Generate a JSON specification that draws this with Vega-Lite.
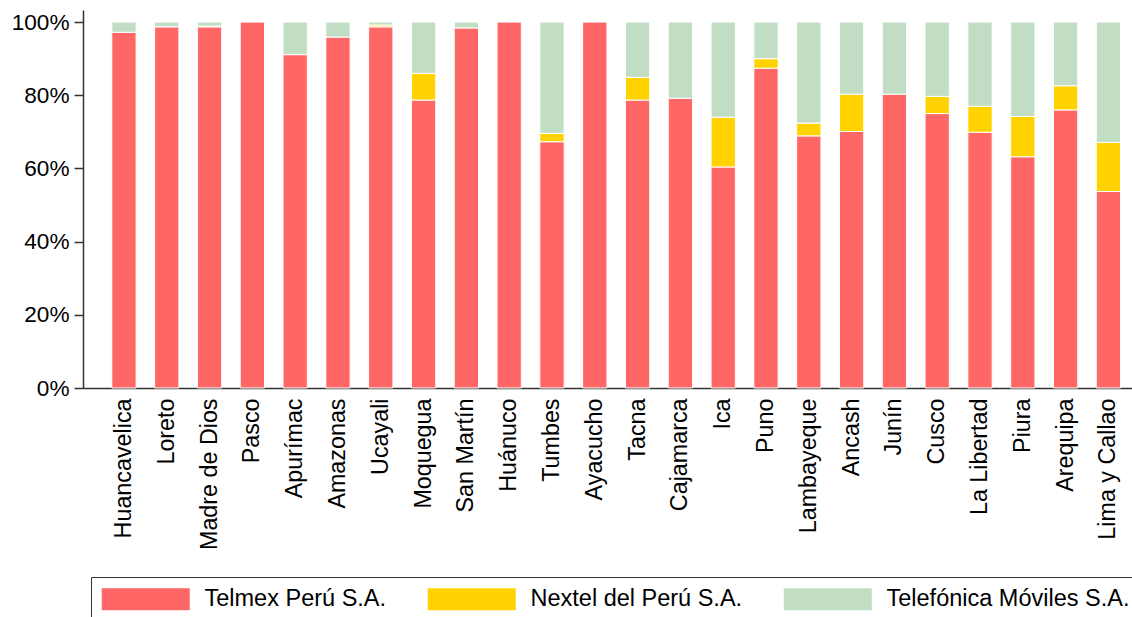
{
  "$schema": "https://vega.github.io/schema/vega-lite/v6.json",
  "autosize": "none",
  "padding": {"left": 83, "top": 10, "right": 0, "bottom": 229},
  "width": 1049,
  "height": 378,
  "background": "white",
  "config": {
    "font": "Liberation Sans",
    "view": {"stroke": null}
  },
  "data": {
    "values": [
      {"dep": "Huancavelica", "op": "Telmex Perú S.A.", "pct": 97.2},
      {"dep": "Huancavelica", "op": "Telefónica Móviles S.A.", "pct": 2.8},
      {"dep": "Loreto", "op": "Telmex Perú S.A.", "pct": 98.7},
      {"dep": "Loreto", "op": "Telefónica Móviles S.A.", "pct": 1.3},
      {"dep": "Madre de Dios", "op": "Telmex Perú S.A.", "pct": 98.7},
      {"dep": "Madre de Dios", "op": "Nextel del Perú S.A.", "pct": 0.2},
      {"dep": "Madre de Dios", "op": "Telefónica Móviles S.A.", "pct": 1.1},
      {"dep": "Pasco", "op": "Telmex Perú S.A.", "pct": 100},
      {"dep": "Apurímac", "op": "Telmex Perú S.A.", "pct": 91.1},
      {"dep": "Apurímac", "op": "Telefónica Móviles S.A.", "pct": 8.9},
      {"dep": "Amazonas", "op": "Telmex Perú S.A.", "pct": 95.9},
      {"dep": "Amazonas", "op": "Telefónica Móviles S.A.", "pct": 4.1},
      {"dep": "Ucayali", "op": "Telmex Perú S.A.", "pct": 98.7},
      {"dep": "Ucayali", "op": "Nextel del Perú S.A.", "pct": 0.5},
      {"dep": "Ucayali", "op": "Telefónica Móviles S.A.", "pct": 0.8},
      {"dep": "Moquegua", "op": "Telmex Perú S.A.", "pct": 78.7},
      {"dep": "Moquegua", "op": "Nextel del Perú S.A.", "pct": 7.3},
      {"dep": "Moquegua", "op": "Telefónica Móviles S.A.", "pct": 14.0},
      {"dep": "San Martín", "op": "Telmex Perú S.A.", "pct": 98.4},
      {"dep": "San Martín", "op": "Telefónica Móviles S.A.", "pct": 1.6},
      {"dep": "Huánuco", "op": "Telmex Perú S.A.", "pct": 100},
      {"dep": "Tumbes", "op": "Telmex Perú S.A.", "pct": 67.3},
      {"dep": "Tumbes", "op": "Nextel del Perú S.A.", "pct": 2.3},
      {"dep": "Tumbes", "op": "Telefónica Móviles S.A.", "pct": 30.4},
      {"dep": "Ayacucho", "op": "Telmex Perú S.A.", "pct": 100},
      {"dep": "Tacna", "op": "Telmex Perú S.A.", "pct": 78.7},
      {"dep": "Tacna", "op": "Nextel del Perú S.A.", "pct": 6.2},
      {"dep": "Tacna", "op": "Telefónica Móviles S.A.", "pct": 15.1},
      {"dep": "Cajamarca", "op": "Telmex Perú S.A.", "pct": 79.2},
      {"dep": "Cajamarca", "op": "Telefónica Móviles S.A.", "pct": 20.8},
      {"dep": "Ica", "op": "Telmex Perú S.A.", "pct": 60.4},
      {"dep": "Ica", "op": "Nextel del Perú S.A.", "pct": 13.6},
      {"dep": "Ica", "op": "Telefónica Móviles S.A.", "pct": 26.0},
      {"dep": "Puno", "op": "Telmex Perú S.A.", "pct": 87.4},
      {"dep": "Puno", "op": "Nextel del Perú S.A.", "pct": 2.6},
      {"dep": "Puno", "op": "Telefónica Móviles S.A.", "pct": 10.0},
      {"dep": "Lambayeque", "op": "Telmex Perú S.A.", "pct": 68.9},
      {"dep": "Lambayeque", "op": "Nextel del Perú S.A.", "pct": 3.5},
      {"dep": "Lambayeque", "op": "Telefónica Móviles S.A.", "pct": 27.6},
      {"dep": "Ancash", "op": "Telmex Perú S.A.", "pct": 70.1},
      {"dep": "Ancash", "op": "Nextel del Perú S.A.", "pct": 10.2},
      {"dep": "Ancash", "op": "Telefónica Móviles S.A.", "pct": 19.7},
      {"dep": "Junín", "op": "Telmex Perú S.A.", "pct": 80.3},
      {"dep": "Junín", "op": "Telefónica Móviles S.A.", "pct": 19.7},
      {"dep": "Cusco", "op": "Telmex Perú S.A.", "pct": 75.0},
      {"dep": "Cusco", "op": "Nextel del Perú S.A.", "pct": 4.7},
      {"dep": "Cusco", "op": "Telefónica Móviles S.A.", "pct": 20.3},
      {"dep": "La Libertad", "op": "Telmex Perú S.A.", "pct": 69.9},
      {"dep": "La Libertad", "op": "Nextel del Perú S.A.", "pct": 7.1},
      {"dep": "La Libertad", "op": "Telefónica Móviles S.A.", "pct": 23.0},
      {"dep": "Piura", "op": "Telmex Perú S.A.", "pct": 63.2},
      {"dep": "Piura", "op": "Nextel del Perú S.A.", "pct": 11.0},
      {"dep": "Piura", "op": "Telefónica Móviles S.A.", "pct": 25.8},
      {"dep": "Arequipa", "op": "Telmex Perú S.A.", "pct": 76.0},
      {"dep": "Arequipa", "op": "Nextel del Perú S.A.", "pct": 6.6},
      {"dep": "Arequipa", "op": "Telefónica Móviles S.A.", "pct": 17.4},
      {"dep": "Lima y Callao", "op": "Telmex Perú S.A.", "pct": 53.7},
      {"dep": "Lima y Callao", "op": "Nextel del Perú S.A.", "pct": 13.4},
      {"dep": "Lima y Callao", "op": "Telefónica Móviles S.A.", "pct": 32.9}
    ]
  },
  "transform": [
    {"calculate": "indexof(['Telmex Perú S.A.', 'Nextel del Perú S.A.', 'Telefónica Móviles S.A.'], datum.op)", "as": "stackIdx"}
  ],
  "mark": {"type": "bar", "stroke": "white", "strokeWidth": 1},
  "encoding": {
    "x": {
      "field": "dep",
      "type": "nominal",
      "sort": null,
      "scale": {"paddingInner": 0.432, "paddingOuter": 0.47, "align": 0.716},
      "axis": {
        "title": null,
        "labelAngle": -90,
        "labelFontSize": 23.3,
        "labelColor": "black",
        "labelPadding": 10,
        "ticks": false,
        "domainColor": "#333333",
        "domainWidth": 1.5
      }
    },
    "y": {
      "field": "pct",
      "type": "quantitative",
      "stack": "zero",
      "scale": {"domain": [0, 103.3], "nice": false},
      "axis": {
        "title": null,
        "values": [0, 20, 40, 60, 80, 100],
        "labelExpr": "datum.value + '%'",
        "labelFontSize": 22.6,
        "labelColor": "black",
        "labelPadding": 5,
        "tickSize": 9,
        "tickColor": "#333333",
        "tickWidth": 1.5,
        "domainColor": "#333333",
        "domainWidth": 1.5,
        "grid": false
      }
    },
    "color": {
      "field": "op",
      "type": "nominal",
      "sort": ["Telmex Perú S.A.", "Nextel del Perú S.A.", "Telefónica Móviles S.A."],
      "scale": {
        "domain": ["Telmex Perú S.A.", "Nextel del Perú S.A.", "Telefónica Móviles S.A."],
        "range": ["#FF6666", "#FFD200", "#C1DDC3"]
      },
      "legend": {
        "title": null,
        "orient": "none",
        "legendX": 8,
        "legendY": 567,
        "direction": "horizontal",
        "columns": 3,
        "padding": 10,
        "strokeColor": "#333333",
        "symbolType": "M-1,-1H7V1H-1Z",
        "symbolSize": 484,
        "symbolStrokeWidth": 0,
        "symbolOpacity": 1,
        "labelOffset": 80,
        "labelFontSize": 23.5,
        "labelColor": "black",
        "labelLimit": 400,
        "columnPadding": 40
      }
    },
    "order": {"field": "stackIdx", "type": "quantitative", "sort": "ascending"}
  }
}
